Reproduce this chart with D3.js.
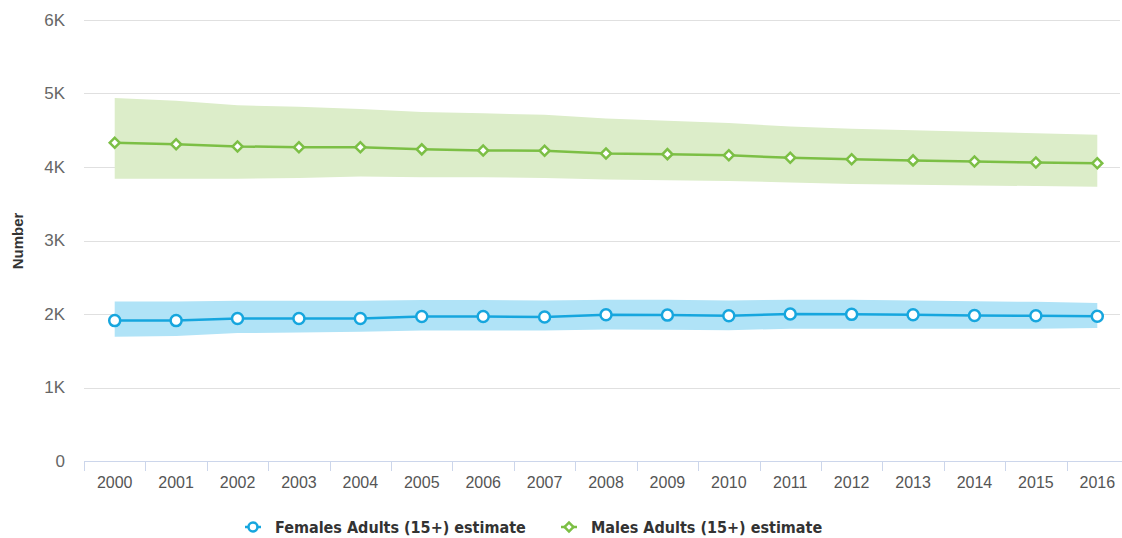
<!DOCTYPE html>
<html>
<head>
<meta charset="utf-8">
<script src="https://cdn.jsdelivr.net/npm/d3@7"></script>
<style>
  body { margin: 0; background: #fff; }
  .axisY text { font-family: "Liberation Sans", Arial, sans-serif; font-size: 17px; fill: #666; }
  .axisX text { font-family: "Liberation Sans", Arial, sans-serif; font-size: 16px; fill: #555; }
  .legend text { font-family: "DejaVu Sans Condensed", "Noto Sans", sans-serif; font-size: 16px; font-weight: bold; fill: #333; }
</style>
</head>
<body>
<div class="chart"></div>
<script>
var svgWidth = 1122;
var svgHeight = 538;

var years = ["2000","2001","2002","2003","2004","2005","2006","2007","2008",
  "2009","2010","2011","2012","2013","2014","2015","2016"];

var femaleEst  = [1910,1910,1940,1940,1940,1965,1965,1960,1990,1985,1975,2000,1995,1990,1980,1975,1970];
var femaleHigh = [2170,2170,2180,2180,2180,2190,2190,2185,2195,2195,2185,2195,2195,2185,2175,2165,2150];
var femaleLow  = [1690,1700,1740,1750,1760,1775,1775,1775,1790,1785,1780,1800,1800,1800,1800,1800,1810];

var maleEst  = [4330,4310,4280,4270,4270,4240,4225,4220,4185,4175,4160,4125,4105,4090,4075,4060,4050];
var maleHigh = [4940,4900,4840,4820,4790,4750,4730,4710,4660,4630,4600,4550,4520,4500,4480,4460,4440];
var maleLow  = [3840,3840,3840,3850,3870,3860,3860,3850,3830,3820,3810,3790,3770,3760,3750,3740,3730];

var yTicks = [0, 1000, 2000, 3000, 4000, 5000, 6000];

var svg = d3.select(".chart")
  .append("svg")
  .attr("width", svgWidth)
  .attr("height", svgHeight);

var xScale = d3.scaleBand().domain(years).range([84, 1128]);
var yScale = d3.scaleLinear().domain([0, 6000]).range([461, 20]);

function cx(d, i) { return xScale(years[i]) + xScale.bandwidth() / 2; }

// gridlines
svg.append("g")
  .selectAll("line")
  .data(yTicks.slice(1))
  .enter().append("line")
    .attr("x1", 84).attr("x2", 1120)
    .attr("y1", function(d) { return Math.round(yScale(d)) + 0.5; })
    .attr("y2", function(d) { return Math.round(yScale(d)) + 0.5; })
    .attr("stroke", "#e0e0e0")
    .attr("stroke-width", 1);

// y axis labels
var leftAxis = d3.axisLeft(yScale)
  .tickValues(yTicks)
  .tickSize(0)
  .tickPadding(0)
  .tickFormat(function(d) { return d === 0 ? "0" : (d / 1000) + "K"; });

svg.append("g")
  .attr("class", "axisY")
  .attr("transform", "translate(65,0)")
  .call(leftAxis)
  .call(function(g) { g.select(".domain").remove(); });

svg.append("text")
  .attr("transform", "translate(23,241) rotate(-90)")
  .attr("text-anchor", "middle")
  .style("font-family", "'Liberation Sans', Arial, sans-serif")
  .style("font-size", "15px")
  .style("font-weight", "bold")
  .style("fill", "#333")
  .text("Number");

// ranges
var areaF = d3.area()
  .x(cx)
  .y0(function(d, i) { return yScale(femaleLow[i]); })
  .y1(function(d) { return yScale(d); });

svg.append("path")
  .datum(femaleHigh)
  .attr("d", areaF)
  .attr("fill", "#b0e3f7");

var areaM = d3.area()
  .x(cx)
  .y0(function(d, i) { return yScale(maleLow[i]); })
  .y1(function(d) { return yScale(d); });

svg.append("path")
  .datum(maleHigh)
  .attr("d", areaM)
  .attr("fill", "#dcedc9");

// x axis
var bottomAxis = d3.axisBottom(xScale).tickSize(0).tickPadding(16);

var xg = svg.append("g")
  .attr("class", "axisX")
  .attr("transform", "translate(0,461)")
  .call(bottomAxis);
xg.select(".domain").attr("stroke", "#ccd6eb").attr("d", "M84.5,0.5H1122");
xg.selectAll(".tickmark")
  .data(years)
  .enter().append("line")
    .attr("x1", function(d) { return Math.round(xScale(d)) + 0.5; })
    .attr("x2", function(d) { return Math.round(xScale(d)) + 0.5; })
    .attr("y1", 0).attr("y2", 10)
    .attr("stroke", "#ccd6eb");

// lines
var line = d3.line().x(cx).y(function(d) { return yScale(d); });

var femaleColor = "#16a6de";
var maleColor = "#7cbf45";

svg.append("path")
  .datum(maleEst)
  .attr("d", line)
  .attr("fill", "none")
  .attr("stroke", maleColor)
  .attr("stroke-width", 2.5);

svg.append("path")
  .datum(femaleEst)
  .attr("d", line)
  .attr("fill", "none")
  .attr("stroke", femaleColor)
  .attr("stroke-width", 2.5);

// markers
svg.append("g")
  .selectAll("path")
  .data(maleEst)
  .enter().append("path")
    .attr("d", d3.symbol().type(d3.symbolSquare).size(50))
    .attr("transform", function(d, i) { return "translate(" + cx(d, i) + "," + yScale(d) + ") rotate(45)"; })
    .attr("fill", "#fff")
    .attr("stroke", maleColor)
    .attr("stroke-width", 2.5);

svg.append("g")
  .selectAll("circle")
  .data(femaleEst)
  .enter().append("circle")
    .attr("cx", cx)
    .attr("cy", function(d) { return yScale(d); })
    .attr("r", 5.5)
    .attr("fill", "#fff")
    .attr("stroke", femaleColor)
    .attr("stroke-width", 2.5);

// legend
var legendItems = [
  { name: "Females Adults (15+) estimate", color: femaleColor, shape: "circle", x: 245 },
  { name: "Males Adults (15+) estimate", color: maleColor, shape: "diamond", x: 561 }
];

var legend = svg.append("g").attr("class", "legend");
legendItems.forEach(function(item) {
  var g = legend.append("g").attr("transform", "translate(" + item.x + ",527)");
  g.append("line").attr("x1", 0).attr("x2", 16).attr("y1", 0).attr("y2", 0)
    .attr("stroke", item.color).attr("stroke-width", 2.5);
  if (item.shape === "circle") {
    g.append("circle").attr("cx", 8).attr("cy", 0).attr("r", 4.5)
      .attr("fill", "#fff").attr("stroke", item.color).attr("stroke-width", 2.5);
  } else {
    g.append("path").attr("d", d3.symbol().type(d3.symbolSquare).size(40))
      .attr("transform", "translate(8,0) rotate(45)")
      .attr("fill", "#fff").attr("stroke", item.color).attr("stroke-width", 2.5);
  }
  g.append("text").attr("x", 30).attr("y", 6).text(item.name);
});
</script>
</body>
</html>
